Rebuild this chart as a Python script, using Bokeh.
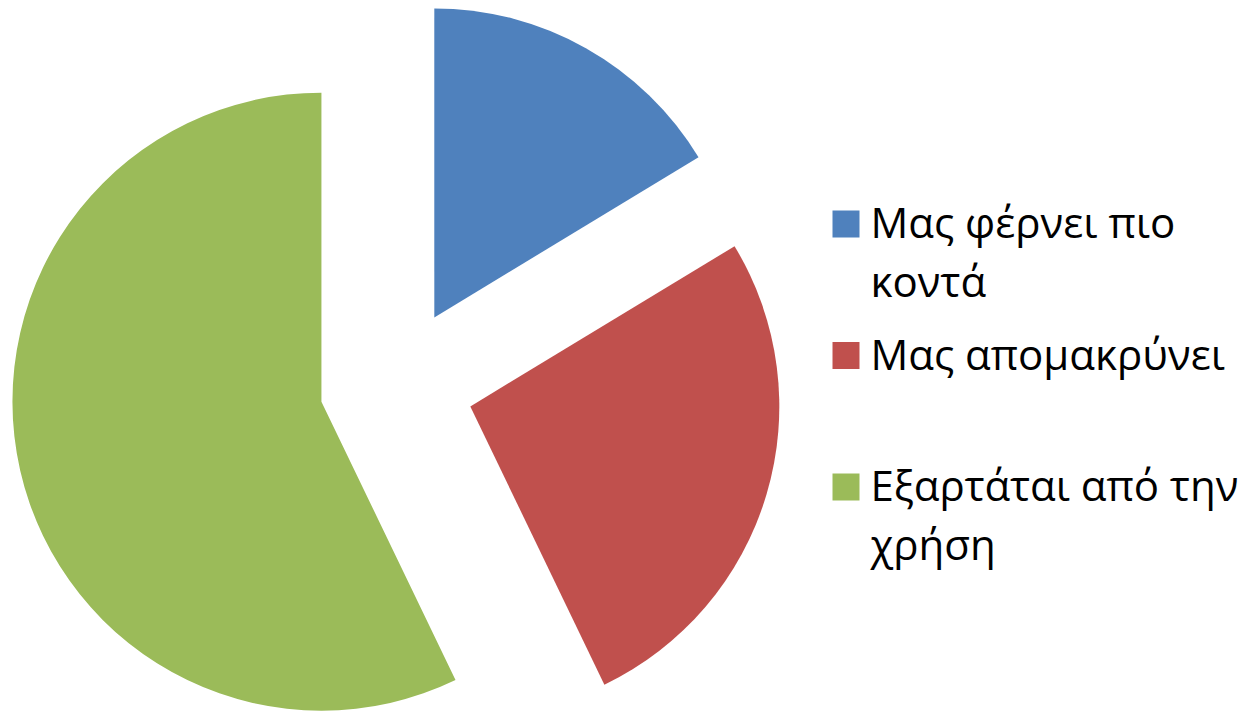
import numpy as np
from bokeh.plotting import figure
from bokeh.models import Range1d, ColumnDataSource
from bokeh.core.properties import value
from bokeh.embed import file_html
from bokeh.resources import INLINE

# Data
labels = ["Μας φέρνει πιο\nκοντά", "Μας απομακρύνει", "Εξαρτάται από την\nχρήση"]
counts = [8, 13, 28]
colors = ["#4F81BD", "#C0504D", "#9BBB59"]

W, H = 1238, 712
p = figure(width=W, height=H, output_backend="svg", toolbar_location=None,
           x_range=Range1d(0, W), y_range=Range1d(0, H),
           min_border=0, outline_line_color=None)
p.axis.visible = False
p.grid.visible = False

# pie geometry (y up = H - screen_y)
cx, cy = 396, H - 384
R = 309
explode = 77

vals = np.array(counts, dtype=float)
frac = vals / vals.sum()
cum = np.concatenate([[0], np.cumsum(frac)]) * 2 * np.pi
start = np.pi / 2 - cum[:-1]
end = np.pi / 2 - cum[1:]
mid = (start + end) / 2
xs = cx + explode * np.cos(mid)
ys = cy + explode * np.sin(mid)

src = ColumnDataSource(dict(x=xs, y=ys, start=start, end=end, color=colors))
p.wedge(x="x", y="y", radius=R, start_angle="start", end_angle="end",
        direction="clock", fill_color="color", line_color=None, source=src)

# legend
sq_x0, sq_size = 832, 27
first_sq_top = 210
entry_gap = 131.5
line_gap = 58.5
text_x = 870
first_base = 221

sq = dict(x=[], y=[], color=[])
tx = dict(x=[], y=[], t=[])
for i, (lab, col) in enumerate(zip(labels, colors)):
    top = first_sq_top + entry_gap * i
    sq["x"].append(sq_x0 + sq_size / 2)
    sq["y"].append(H - (top + sq_size / 2))
    sq["color"].append(col)
    for j, line in enumerate(lab.split("\n")):
        tx["x"].append(text_x)
        tx["y"].append(H - (first_base + entry_gap * i + line_gap * j))
        tx["t"].append(line)

p.rect(x="x", y="y", width=sq_size, height=sq_size, fill_color="color",
       line_color=None, source=ColumnDataSource(sq))
p.text(x="x", y="y", text="t", source=ColumnDataSource(tx),
       text_font=value("Open Sans"), text_font_size="42px",
       text_baseline="alphabetic", text_align="left", text_color="#000000")

open("out.html", "w").write(file_html(p, INLINE))
